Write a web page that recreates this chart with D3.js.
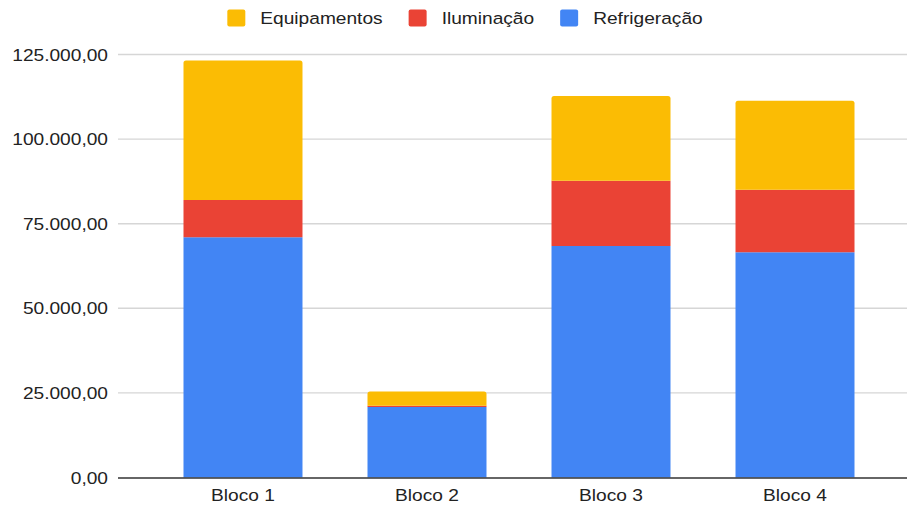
<!DOCTYPE html>
<html>
<head>
<meta charset="utf-8">
<script src="https://cdn.jsdelivr.net/npm/d3@7"></script>
<style>
  body { margin: 0; background: #fff; }
  text { font-family: "Liberation Sans", Arial, sans-serif; }
</style>
</head>
<body>
<svg id="chart" width="907" height="507"></svg>
<script>
// data
var blocos = ["Bloco 1", "Bloco 2", "Bloco 3", "Bloco 4"];
var series = ["Refrigeração", "Iluminação", "Equipamentos"];
var refrigeracao = [71000, 20800, 68400, 66600];
var iluminacao = [11000, 400, 19300, 18400];
var equipamentos = [41200, 4200, 25000, 26300];
var yTicks = [0, 25000, 50000, 75000, 100000, 125000];
var legendOrder = ["Equipamentos", "Iluminação", "Refrigeração"];

var colors = {
    "Refrigeração": "#4285f4",
    "Iluminação": "#ea4335",
    "Equipamentos": "#fbbc04"
};

var rows = blocos.map(function(b, i) {
    return {
        bloco: b,
        "Refrigeração": refrigeracao[i],
        "Iluminação": iluminacao[i],
        "Equipamentos": equipamentos[i]
    };
});

var stacked = d3.stack().keys(series)(rows);

var ptBR = d3.formatLocale({decimal: ",", thousands: ".", grouping: [3], currency: ["R$", ""]});
var fmt = ptBR.format(",.2f");

var svg = d3.select("#chart");
var stretch = 1.1; // text in the reference is slightly wide

var gridLeft = 118, gridRight = 907;

var x = d3.scaleBand()
    .domain(blocos)
    .range([151, 887])
    .paddingInner(0.3533)
    .paddingOuter(0.1766);

var y = d3.scaleLinear()
    .domain([0, 125000])
    .range([477.5, 54.5]);

// gridlines
svg.append("g").selectAll("line")
    .data(yTicks.filter(function(d) { return d > 0; }))
    .enter().append("line")
    .attr("x1", gridLeft).attr("x2", gridRight)
    .attr("y1", function(d) { return y(d); })
    .attr("y2", function(d) { return y(d); })
    .attr("stroke", "#d6d6d6")
    .attr("stroke-width", 1.4);

// y labels
svg.append("g").selectAll("text")
    .data(yTicks)
    .enter().append("text")
    .attr("transform", function(d) { return "translate(108," + (y(d) + 6) + ") scale(" + stretch + ",1)"; })
    .attr("text-anchor", "end")
    .attr("font-size", "17.4px")
    .attr("fill", "#222")
    .text(function(d) { return fmt(d); });

// bars
function topRounded(x0, y0, w, h, r) {
    return "M" + x0 + "," + (y0 + h) +
        "V" + (y0 + r) +
        "Q" + x0 + "," + y0 + " " + (x0 + r) + "," + y0 +
        "H" + (x0 + w - r) +
        "Q" + (x0 + w) + "," + y0 + " " + (x0 + w) + "," + (y0 + r) +
        "V" + (y0 + h) + "Z";
}

stacked.forEach(function(layer, li) {
    var isTop = li === stacked.length - 1;
    svg.append("g").selectAll("path")
        .data(layer)
        .enter().append("path")
        .attr("fill", colors[layer.key])
        .attr("d", function(d) {
            var x0 = x(d.data.bloco), w = x.bandwidth();
            var y0 = y(d[1]), h = y(d[0]) - y(d[1]);
            return topRounded(x0, y0, w, h, isTop ? 2.5 : 0);
        });
});

// baseline
svg.append("line")
    .attr("x1", gridLeft).attr("x2", gridRight)
    .attr("y1", y(0) + 0.5).attr("y2", y(0) + 0.5)
    .attr("stroke", "#333")
    .attr("stroke-width", 1.4);

// x labels
svg.append("g").selectAll("text")
    .data(blocos)
    .enter().append("text")
    .attr("transform", function(d) { return "translate(" + (x(d) + x.bandwidth() / 2) + ",501) scale(" + stretch + ",1)"; })
    .attr("text-anchor", "middle")
    .attr("font-size", "17.4px")
    .attr("fill", "#222")
    .text(function(d) { return d; });

// legend
var legend = svg.append("g");
var items = legend.selectAll("g")
    .data(legendOrder)
    .enter().append("g");

items.append("rect")
    .attr("width", 18).attr("height", 17)
    .attr("y", 9.5)
    .attr("rx", 2)
    .attr("fill", function(d) { return colors[d]; });

items.append("text")
    .attr("font-size", "17.4px")
    .attr("fill", "#222")
    .text(function(d) { return d; });

var cursor = 0;
items.each(function() {
    var g = d3.select(this);
    var tw = g.select("text").node().getComputedTextLength() * stretch;
    g.attr("transform", "translate(" + cursor + ",0)");
    g.select("text").attr("transform", "translate(33,24) scale(" + stretch + ",1)");
    cursor += 33 + tw + 26;
});
var total = cursor - 26;
legend.attr("transform", "translate(" + (465 - total / 2) + ",0)");
</script>
</body>
</html>
